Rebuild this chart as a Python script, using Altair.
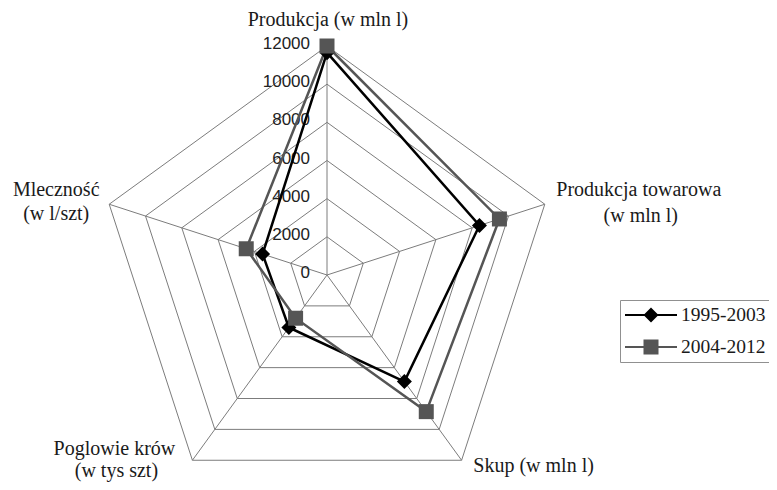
import math
import altair as alt
import pandas as pd

# ---------------- data ----------------
categories = [
    "Produkcja (w mln l)",
    "Produkcja towarowa (w mln l)",
    "Skup (w mln l)",
    "Poglowie krów (w tys szt)",
    "Mleczność (w l/szt)",
]
label_lines = [
    ["Produkcja (w mln l)"],
    ["Produkcja towarowa", "(w mln l)"],
    ["Skup  (w mln l)"],
    ["Poglowie krów", "(w tys szt)"],
    ["Mleczność", "(w l/szt)"],
]
series_names = ["1995-2003", "2004-2012"]
values_1995_2003 = [11650, 8400, 6900, 3400, 3550]
values_2004_2012 = [12000, 9500, 8850, 2800, 4450]
ticks = [0, 2000, 4000, 6000, 8000, 10000, 12000]

# ---------------- layout ----------------
W, H = 761, 474
CX, CY = 319, 267            # centre of the radar in plot pixels
MAXV = ticks[-1]
K = 229 / MAXV               # pixels per data unit
XDOM = [-CX / K, (W - CX) / K]
YDOM = [-(H - CY) / K, CY / K]

# pixel offsets of label lines from the outer vertex of each axis (dx, dy: screen)
label_offsets = [
    [(1, -20)],
    [(94, -8), (96, 18)],
    [(72, 12)],
    [(-78, -5), (-76, 17)],
    [(-53, -8), (-53, 16)],
]

n = len(categories)


def ang(i):
    return math.radians(90 - 360 / n * (i % n))


def pol(v, i):
    a = ang(i)
    return v * math.cos(a), v * math.sin(a)


# series table
srows = []
for s, vals in zip(series_names, [values_1995_2003, values_2004_2012]):
    for i in range(n + 1):
        v = vals[i % n]
        x, y = pol(v, i)
        srows.append(dict(series=s, order=i, x=x, y=y, value=v,
                          category=categories[i % n], closing=(i == n)))
sdf = pd.DataFrame(srows)

# grid rings
grows = []
for lv in ticks[1:]:
    for i in range(n + 1):
        x, y = pol(lv, i)
        grows.append(dict(level=lv, order=i, x=x, y=y))
gdf = pd.DataFrame(grows)

# spokes
sprows = []
for i in range(n):
    x2, y2 = pol(MAXV, i)
    sprows.append(dict(x=0.0, y=0.0, x2=x2, y2=y2, category=categories[i]))
spdf = pd.DataFrame(sprows)

# tick labels
tdf = pd.DataFrame(dict(x=[0.0] * len(ticks), y=ticks, label=[str(t) for t in ticks]))

# category labels
lrows = []
for i, lines in enumerate(label_lines):
    vx, vy = pol(MAXV, i)
    for j, txt in enumerate(lines):
        dx, dy = label_offsets[i][j]
        lrows.append(dict(text=txt, x=vx + dx / K, y=vy - dy / K))
ldf = pd.DataFrame(lrows)

xs = alt.Scale(domain=XDOM, nice=False, zero=False)
ys = alt.Scale(domain=YDOM, nice=False, zero=False)
X = alt.X("x:Q", scale=xs, axis=None)
Y = alt.Y("y:Q", scale=ys, axis=None)

color_scale = alt.Scale(domain=series_names, range=["#000000", "#555555"])

grid_color = "#7c7c7c"

rings = alt.Chart(gdf).mark_line(color=grid_color, strokeWidth=1).encode(
    x=X, y=Y, detail="level:N", order="order:Q"
)
spokes = alt.Chart(spdf).mark_rule(color=grid_color, strokeWidth=1).encode(
    x=X, y=Y, x2="x2:Q", y2="y2:Q"
)
tick_text = alt.Chart(tdf).mark_text(
    align="right", baseline="middle", dx=-17, dy=-2,
    font="Liberation Sans", fontSize=17, color="#222222"
).encode(x=X, y=Y, text="label:N")

cat_text = alt.Chart(ldf).mark_text(
    align="center", baseline="alphabetic",
    font="Liberation Serif", fontSize=20, color="#1a1a1a"
).encode(x=X, y=Y, text="text:N")

lines = alt.Chart(sdf).mark_line(strokeWidth=2.5).encode(
    x=X, y=Y, detail="series:N", order="order:Q",
    color=alt.Color("series:N", scale=color_scale, legend=None),
)

pts = sdf[~sdf["closing"]]
diamonds = alt.Chart(pts).transform_filter(
    alt.datum.series == series_names[0]
).mark_point(shape="diamond", filled=True, size=225, opacity=1).encode(
    x=X, y=Y, color=alt.Color("series:N", scale=color_scale, legend=None)
)
squares = alt.Chart(pts).transform_filter(
    alt.datum.series == series_names[1]
).mark_point(shape="square", filled=True, size=225, opacity=1).encode(
    x=X, y=Y, color=alt.Color("series:N", scale=color_scale, legend=None)
)

# legend (line + marker symbols)
p_line = "M-1,-0.1H4.2V0.1H-1Z"
sym_diamond = p_line + "M1.6,-0.75L2.35,0L1.6,0.75L0.85,0Z"
sym_square = p_line + "M0.85,-0.75H2.35V0.75H0.85Z"
leg_kw = dict(
    title=None, orient="none", legendX=612, legendY=292,
    strokeColor="#909090", fillColor="white", padding=5,
    symbolSize=400, symbolStrokeWidth=0, symbolOpacity=1,
    labelOffset=36, rowPadding=12,
    labelFont="Liberation Serif", labelFontSize=19.5, labelColor="#1a1a1a",
)
legend_layer = alt.Chart(pts).transform_filter("false").mark_point(
    filled=True, opacity=1
).encode(
    x=X, y=Y,
    color=alt.Color("series:N", scale=color_scale, legend=alt.Legend(**leg_kw)),
    shape=alt.Shape("series:N",
                    scale=alt.Scale(domain=series_names, range=[sym_diamond, sym_square]),
                    legend=alt.Legend(**leg_kw)),
)

chart = alt.layer(
    legend_layer, rings, spokes, tick_text, cat_text, lines, diamonds, squares
).resolve_legend(
    color="independent", shape="independent"
).properties(
    width=W, height=H, padding=0,
    autosize=alt.AutoSizeParams(type="none"),
).configure_view(stroke=None)

chart.save("out.html", embed_options={"renderer": "svg", "actions": False})
